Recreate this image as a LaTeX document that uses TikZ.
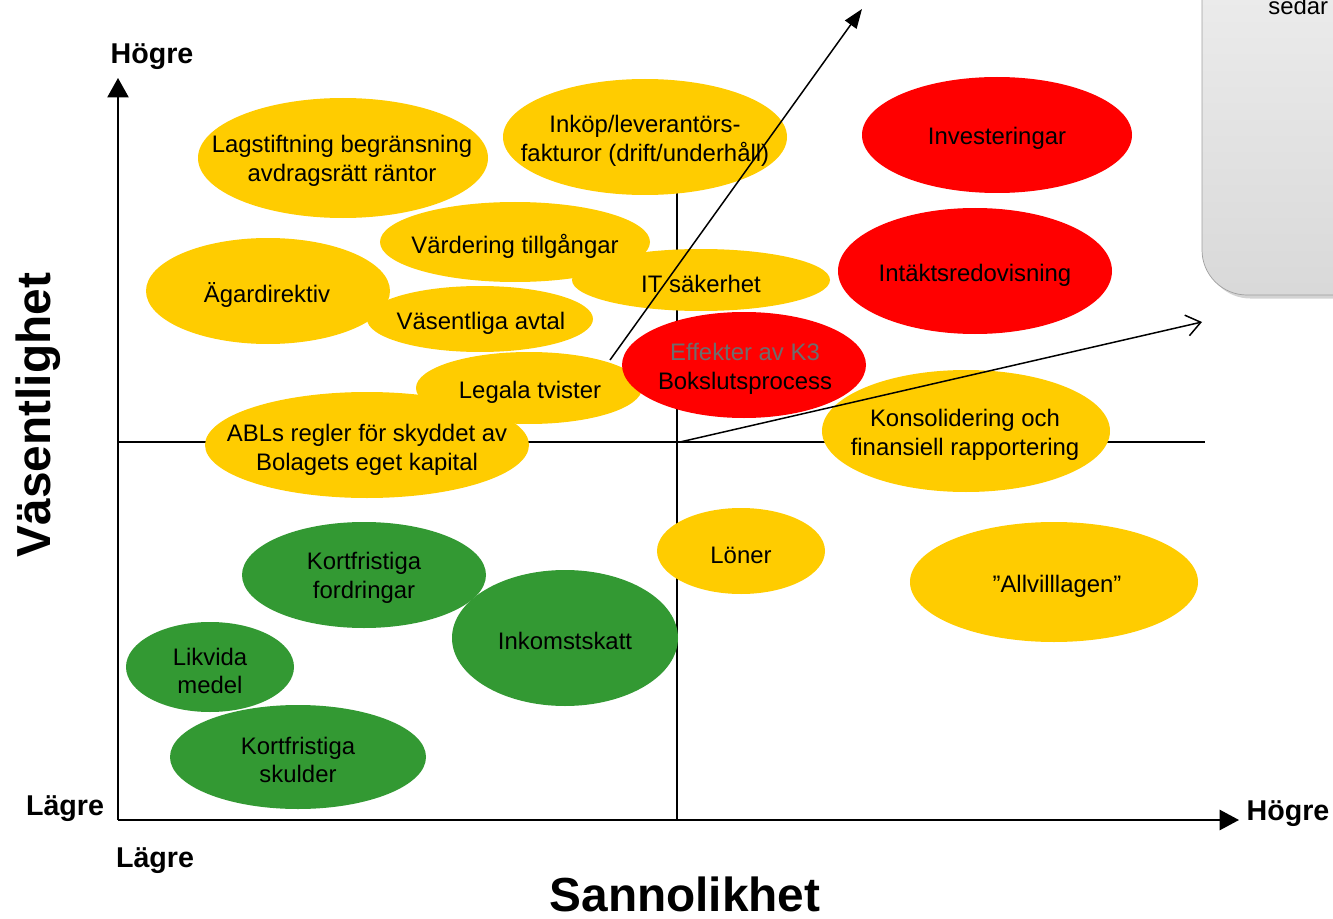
\documentclass[tikz,border=0pt]{standalone}
\usepackage{fontspec}
\setmainfont{Liberation Sans}
\usepackage{xcolor}
\usepackage{tikz}
\usetikzlibrary{arrows.meta, shadows}

\definecolor{gul}{HTML}{FFCC00}
\definecolor{rod}{HTML}{FF0000}
\definecolor{gron}{HTML}{339933}
\definecolor{textgra}{HTML}{6D6D6D}

\begin{document}
\begin{tikzpicture}[x=0.02cm, y=-0.02cm,
    every node/.style={font=\fontsize{13.6}{16.4}\selectfont, align=center, inner sep=0pt},
    axel/.style={line width=1.1pt},
    rubrik/.style={font=\bfseries\fontsize{16.3}{19}\selectfont}
  ]
  \tikzset{
    hog/.style={fill=rod},
    medel/.style={fill=gul},
    lag/.style={fill=gron},
    pil/.style={line width=0.85pt}
  }
  \useasboundingbox (0,0) rectangle (1333,919);
  \clip (0,0) rectangle (1333,919);

  % ruta uppe till hoger
  \path[draw=gray!75, top color=gray!12, bottom color=gray!30, rounded corners=0.9cm,
    drop shadow={shadow xshift=2pt, shadow yshift=-2pt, opacity=0.35}]
    (1202,-80) rectangle (1420,295);
  \node[anchor=base west] (sedar) at (1268,15) {sedar};

  % axlar och mittlinjer
  \coordinate (origo) at (118,820);
  \coordinate (ytopp) at (118,78);
  \coordinate (xslut) at (1239,820);
  \coordinate (mitt1) at (118,442);
  \coordinate (mitt2) at (1205,442);
  \coordinate (mitt3) at (677,180);
  \coordinate (mitt4) at (677,820);
  \draw[axel] (mitt1) -- (mitt2);
  \draw[axel] (mitt3) -- (mitt4);
  \draw[axel, -{Triangle[length=11pt, width=12pt]}] (origo) -- (ytopp);
  \draw[axel, -{Triangle[length=11pt, width=11.5pt]}] (origo) -- (xslut);

  \node[rubrik] (hogre1) at (152,57) {Högre};
  \node[rubrik] (lagre1) at (65,809) {Lägre};
  \node[rubrik] (lagre2) at (155,861) {Lägre};
  \node[rubrik] (hogre2) at (1288,814) {Högre};
  \node[font=\bfseries\fontsize{27.2}{30}\selectfont, rotate=90] (vasent) at (38,415) {Väsentlighet};
  \node[font=\bfseries\fontsize{27.2}{30}\selectfont] (sannol) at (685,894) {Sannolikhet};

  % gula
  \fill[medel] (343,158) ellipse [x radius=145, y radius=60];
  \node (lagstift) at (342,161) {Lagstiftning begränsning\\avdragsrätt räntor};
  \fill[medel] (645,137) ellipse [x radius=142, y radius=58];
  \node (inkop) at (645,141) {Inköp/leverantörs-\\fakturor (drift/underhåll)};
  \fill[medel] (515,242) ellipse [x radius=135, y radius=40];
  \node (vardering) at (515,246) {Värdering tillgångar};
  \fill[medel] (701,280) ellipse [x radius=129, y radius=31];
  \node (itsak) at (701,284) {IT säkerhet};
  \fill[medel] (268,291) ellipse [x radius=122, y radius=53];
  \node (agardir) at (267,295) {Ägardirektiv};
  \fill[medel] (480,319) ellipse [x radius=113, y radius=33];
  \node (avtal) at (481,323) {Väsentliga avtal};
  \fill[medel] (529,388) ellipse [x radius=113, y radius=36];
  \node (tvister) at (530,392) {Legala tvister};
  \fill[medel] (367,445) ellipse [x radius=162, y radius=53];
  \node (abl) at (367,450) {ABLs regler för skyddet av\\Bolagets eget kapital};
  \fill[medel] (966,431) ellipse [x radius=144, y radius=61];
  \node (konsol) at (965,435) {Konsolidering och\\finansiell rapportering};
  \fill[medel] (741,551) ellipse [x radius=84, y radius=43];
  \node (loner) at (741,555) {Löner};
  \fill[medel] (1054,582) ellipse [x radius=144, y radius=60];
  \node (allvill) at (1057,586) {”Allvilllagen”};

  % roda
  \fill[hog] (997,135) ellipse [x radius=135, y radius=58];
  \node (invest) at (997,138) {Investeringar};
  \fill[hog] (975,271) ellipse [x radius=137, y radius=63];
  \node (intakt) at (975,275) {Intäktsredovisning};
  \fill[hog] (744,365) ellipse [x radius=122, y radius=53];
  \node (bokslut) at (745,369) {\textcolor{textgra}{Effekter av K3}\\Bokslutsprocess};

  % grona
  \fill[lag] (364,575) ellipse [x radius=122, y radius=53];
  \node (kfordr) at (364,578) {Kortfristiga\\fordringar};
  \fill[lag] (565,638) ellipse [x radius=113, y radius=68];
  \node (skatt) at (565,641) {Inkomstskatt};
  \fill[lag] (210,667) ellipse [x radius=84, y radius=45];
  \node (likvida) at (210,671) {Likvida\\medel};
  \fill[lag] (298,757) ellipse [x radius=128, y radius=52];
  \node (kskuld) at (298,760) {Kortfristiga\\skulder};

  % pilar
  \coordinate (p1start) at (610,360);
  \coordinate (p1slut) at (862,9);
  \coordinate (p2start) at (680,442);
  \coordinate (p2slut) at (1202,322);
  \draw[pil, -{Triangle[length=11pt, width=8pt]}] (p1start) -- (p1slut);
  \draw[pil, -{Straight Barb[length=8pt, width=12pt]}] (p2start) -- (p2slut);
\end{tikzpicture}
\end{document}
